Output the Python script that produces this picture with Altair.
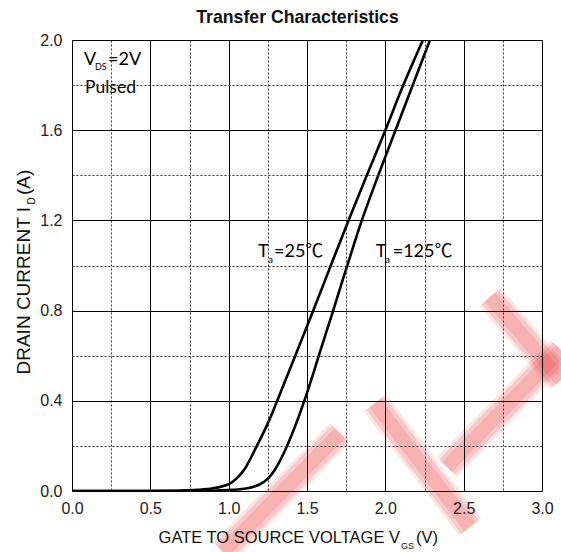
import altair as alt
import pandas as pd

# ---- data ----
v_25c = [0.0, 0.5, 0.6, 0.7, 0.8, 0.9, 1.0, 1.05, 1.1, 1.18, 1.25, 1.31, 1.425, 1.54, 1.652, 1.765, 1.882, 2.0, 2.115, 2.24]
i_25c = [0.0, 0.0, 0.001, 0.002, 0.005, 0.012, 0.03, 0.055, 0.095, 0.2, 0.3, 0.4, 0.6, 0.8, 1.0, 1.2, 1.4, 1.6, 1.8, 2.0]

v_125c = [0.0, 0.8, 0.9, 1.0, 1.1, 1.15, 1.2, 1.25, 1.3, 1.35, 1.4, 1.45, 1.5, 1.58, 1.667, 1.757, 1.85, 1.955, 2.065, 2.175, 2.285]
i_125c = [0.0, 0.0, 0.001, 0.004, 0.01, 0.017, 0.03, 0.055, 0.1, 0.165, 0.245, 0.335, 0.435, 0.61, 0.8, 1.0, 1.2, 1.4, 1.6, 1.8, 2.0]

x_grid = [0.0, 0.25, 0.5, 0.75, 1.0, 1.25, 1.5, 1.75, 2.0, 2.25, 2.5, 2.75, 3.0]
y_grid = [0.0, 0.2, 0.4, 0.6, 0.8, 1.0, 1.2, 1.4, 1.6, 1.8, 2.0]

df = pd.concat([
    pd.DataFrame({"V": v_25c, "I": i_25c, "series": "25C"}),
    pd.DataFrame({"V": v_125c, "I": i_125c, "series": "125C"}),
])

W, H = 470, 451
LABEL_FONT = "Liberation Sans"
NOTE_FONT = "Lato, 'Noto Sans CJK SC', sans-serif"

x_minor = "abs(round(datum.value*2) - datum.value*2) > 0.01"
y_minor = "abs(round(datum.value/0.4) - datum.value/0.4) > 0.01"

x_axis = alt.Axis(
    values=x_grid, title=None, ticks=False, domain=False, zindex=1, labelFlush=False,
    labelExpr=f"{x_minor} ? '' : format(datum.value, '.1f')",
    labelFont=LABEL_FONT, labelFontSize=16, labelColor="#222", labelPadding=9,
    grid=True, gridWidth=1,
    gridColor={"condition": {"test": x_minor, "value": "#333"}, "value": "#000"},
    gridDash={"condition": {"test": x_minor, "value": [2, 2]}, "value": []},
)
y_axis = alt.Axis(
    values=y_grid, title=None, ticks=False, domain=False, zindex=1, labelFlush=False,
    labelExpr=f"{y_minor} ? '' : format(datum.value, '.1f')",
    labelFont=LABEL_FONT, labelFontSize=16, labelColor="#222", labelPadding=10,
    grid=True, gridWidth=1,
    gridColor={"condition": {"test": y_minor, "value": "#333"}, "value": "#000"},
    gridDash={"condition": {"test": y_minor, "value": [2, 2]}, "value": []},
)

lines = alt.Chart(df).mark_line(color="black", strokeWidth=2.6, interpolate="catmull-rom", clip=True).encode(
    x=alt.X("V:Q", scale=alt.Scale(domain=[0, 3], nice=False, zero=False), axis=x_axis),
    y=alt.Y("I:Q", scale=alt.Scale(domain=[0, 2], nice=False, zero=False), axis=y_axis),
    detail="series:N",
)

one = pd.DataFrame({"k": [0]})

def wm(x1, y1, x2, y2, width, opacity):
    return alt.Chart(one).mark_rule(color="#e82828", opacity=opacity, strokeWidth=width, clip=False).encode(
        x=alt.value(x1), y=alt.value(y1), x2=alt.value(x2), y2=alt.value(y2))

def txt(s, x, y, size, font=NOTE_FONT, align="left", baseline="alphabetic", angle=0, weight="normal", color="#000"):
    kw = dict(text=s, font=font, fontSize=size, align=align, baseline=baseline, fontWeight=weight, color=color)
    if angle:
        kw["angle"] = angle
    return alt.Chart(one).mark_text(**kw).encode(x=alt.value(x), y=alt.value(y))

strokes = [
    (151, 512, 268, 393),
    (303, 363, 398, 487),
    (375, 427, 489, 310),
    (418, 257, 489, 340),
]
watermark = []
for s in strokes:
    watermark.append(wm(*s, 28, 0.12))
    watermark.append(wm(*s, 22, 0.15))
    watermark.append(wm(*s, 14, 0.15))

texts = [
    txt("Transfer Characteristics", 225.5, -17, 17.7, font=LABEL_FONT, align="center", weight="bold", color="#111"),
    # x title
    txt("GATE TO SOURCE VOLTAGE V", 328, 503, 16.5, font=LABEL_FONT, align="right", color="#111"),
    txt("GS", 329, 509, 9, font=LABEL_FONT, color="#111"),
    txt("(V)", 344, 503, 16.5, font=LABEL_FONT, color="#111"),
    # y title
    txt("DRAIN CURRENT I", -42, 167, 19, font=LABEL_FONT, align="right", angle=270, color="#111"),
    txt("D", -37, 161, 10, font=LABEL_FONT, align="center", angle=270, color="#111"),
    txt("(A)", -42, 155, 19, font=LABEL_FONT, align="left", angle=270, color="#111"),
    # notes
    txt("V", 12, 25, 18),
    txt("DS", 23, 29.5, 9),
    txt("=2V", 36, 25, 18),
    txt("Pulsed", 13, 53, 17.5),
    txt("T", 186, 216.7, 18),
    txt("a", 196, 223, 10),
    txt("=25℃", 202, 216.7, 18),
    txt("T", 303.7, 216.7, 18),
    txt("a", 313, 223, 10),
    txt("=125℃", 320.7, 216.7, 18),
]

chart = alt.layer(*watermark, lines, *texts).properties(
    width=W, height=H,
    autosize=alt.AutoSizeParams(type="none"),
    padding={"left": 72, "top": 40, "right": 19, "bottom": 61},
).configure_view(stroke="#000", strokeWidth=1).configure(background="white")

chart.save("out.html", embed_options={"renderer": "svg", "actions": False})
